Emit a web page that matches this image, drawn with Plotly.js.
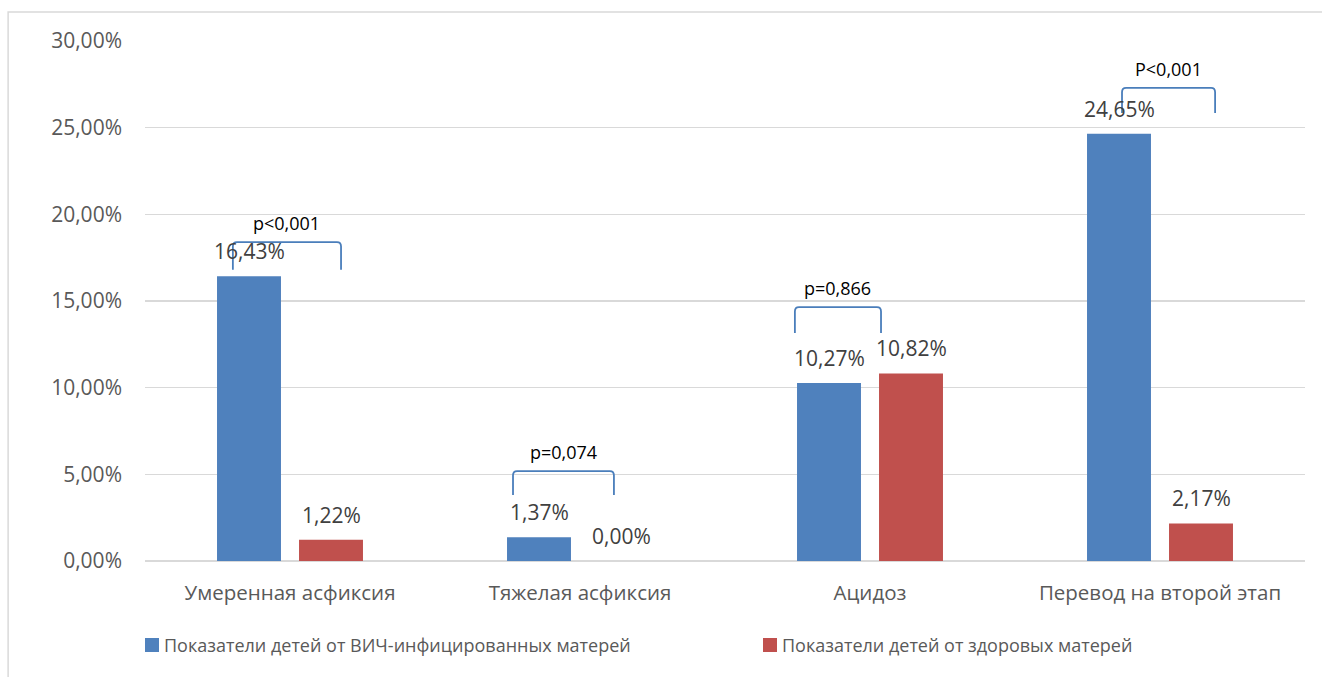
<!DOCTYPE html>
<html>
<head>
<meta charset="utf-8">
<script src="https://cdn.plot.ly/plotly-3.0.1.min.js"></script>
<style>html,body{margin:0;padding:0;background:#fff}#chart{width:1322px;height:677px}</style>
</head>
<body>
<div id="chart"></div>
<script>
const categories = ["Умеренная асфиксия", "Тяжелая асфиксия", "Ацидоз", "Перевод на второй этап"];
const seriesNames = ["Показатели детей от ВИЧ-инфицированных матерей", "Показатели детей от здоровых матерей"];
const hivValues = [16.43, 1.37, 10.27, 24.65];
const healthyValues = [1.22, 0.00, 10.82, 2.17];
const yTickVals = [0, 5, 10, 15, 20, 25, 30];
const yTickText = ["0,00%", "5,00%", "10,00%", "15,00%", "20,00%", "25,00%", "30,00%"];
// significance brackets (category-relative x, y in %)
const pLabels = ["p<0,001", "p=0,074", "p=0,866", "P<0,001"];
const bracketLeft = [-0.197, 0.769, 1.741, 2.869];
const bracketRight = [0.176, 1.117, 2.038, 3.19];
const bracketTop = [18.4, 5.19, 14.65, 27.29];
const bracketBottom = [16.8, 3.81, 13.15, 25.85];

const colors = ["#4f81bd", "#c0504d"];
const xIdx = categories.map((c, i) => i);
const fmt = v => v.toFixed(2).replace(".", ",") + "%";
const FONT = "Open Sans";

const traces = [
  {type: "bar", x: xIdx, y: hivValues, name: seriesNames[0], marker: {color: colors[0]}, hoverinfo: "none", showlegend: false},
  {type: "bar", x: xIdx, y: healthyValues, name: seriesNames[1], marker: {color: colors[1]}, hoverinfo: "none", showlegend: false}
];

const BARGAP = 0.4345;
const annotations = [];
const off = (1 - BARGAP) / 4; // centre of each bar slot relative to category
[hivValues, healthyValues].forEach((vals, s) => {
  vals.forEach((v, i) => {
    annotations.push({x: i + (s === 0 ? -off : off), y: v, xref: "x", yref: "y", text: fmt(v),
      showarrow: false, yanchor: "bottom", yshift: 9,
      font: {family: FONT, size: 21, color: "#404040"}});
  });
});
const shapes = [];
const rx = 0.014, ry = 0.25;
pLabels.forEach((t, i) => {
  const x0 = bracketLeft[i], x1 = bracketRight[i], yt = bracketTop[i], yb = bracketBottom[i];
  shapes.push({type: "path", xref: "x", yref: "y",
    path: `M ${x0},${yb} L ${x0},${yt - ry} Q ${x0},${yt} ${x0 + rx},${yt} L ${x1 - rx},${yt} Q ${x1},${yt} ${x1},${yt - ry} L ${x1},${yb}`,
    line: {color: "#4a7ebb", width: 1.8}});
  annotations.push({x: (x0 + x1) / 2, y: yt, xref: "x", yref: "y", text: t, showarrow: false,
    yanchor: "bottom", yshift: 5, font: {family: FONT, size: 18, color: "#000"}});
});
// outer chart frame
shapes.push({type: "rect", xref: "paper", yref: "paper", x0: -0.118, x1: 1.2, y0: -0.4, y1: 1.0558,
  line: {color: "#d9d9d9", width: 1.5}, layer: "below"});

// legend drawn by hand (paper coords: plot area 145..1305 px, 41..561 px)
const pxX = px => (px - 145) / 1160;
const pxY = py => (561 - py) / 520;
const legendX = [145, 763];
seriesNames.forEach((n, i) => {
  shapes.push({type: "rect", xref: "paper", yref: "paper", x0: pxX(legendX[i]), x1: pxX(legendX[i] + 14),
    y0: pxY(652), y1: pxY(638), fillcolor: colors[i], line: {width: 0}});
  annotations.push({x: pxX(legendX[i] + 17), y: pxY(645), xref: "paper", yref: "paper", text: n,
    showarrow: false, xanchor: "left", yanchor: "middle", font: {family: FONT, size: 18, color: "#595959"}});
});

const layout = {
  width: 1322, height: 677,
  margin: {l: 145, r: 17, t: 41, b: 116, autoexpand: false},
  paper_bgcolor: "#fff", plot_bgcolor: "#fff",
  barmode: "group", bargap: BARGAP, bargroupgap: 0.22,
  showlegend: false,
  xaxis: {range: [-0.5, 3.5], tickvals: xIdx, ticktext: categories, showgrid: false, zeroline: false,
    showline: false, ticks: "", ticklabelstandoff: 17, tickfont: {family: FONT, size: 20.5, color: "#595959"}},
  yaxis: {range: [0, 30], tickvals: yTickVals, ticktext: yTickText, showgrid: true, gridcolor: "#d9d9d9",
    gridwidth: 1.3, zeroline: true, zerolinecolor: "#d9d9d9", zerolinewidth: 1.3, showline: false, ticks: "",
    ticklabelstandoff: 22, tickfont: {family: FONT, size: 21, color: "#595959"}},
  annotations: annotations, shapes: shapes
};
Plotly.newPlot("chart", traces, layout, {displayModeBar: false, staticPlot: true});
</script>
</body>
</html>
